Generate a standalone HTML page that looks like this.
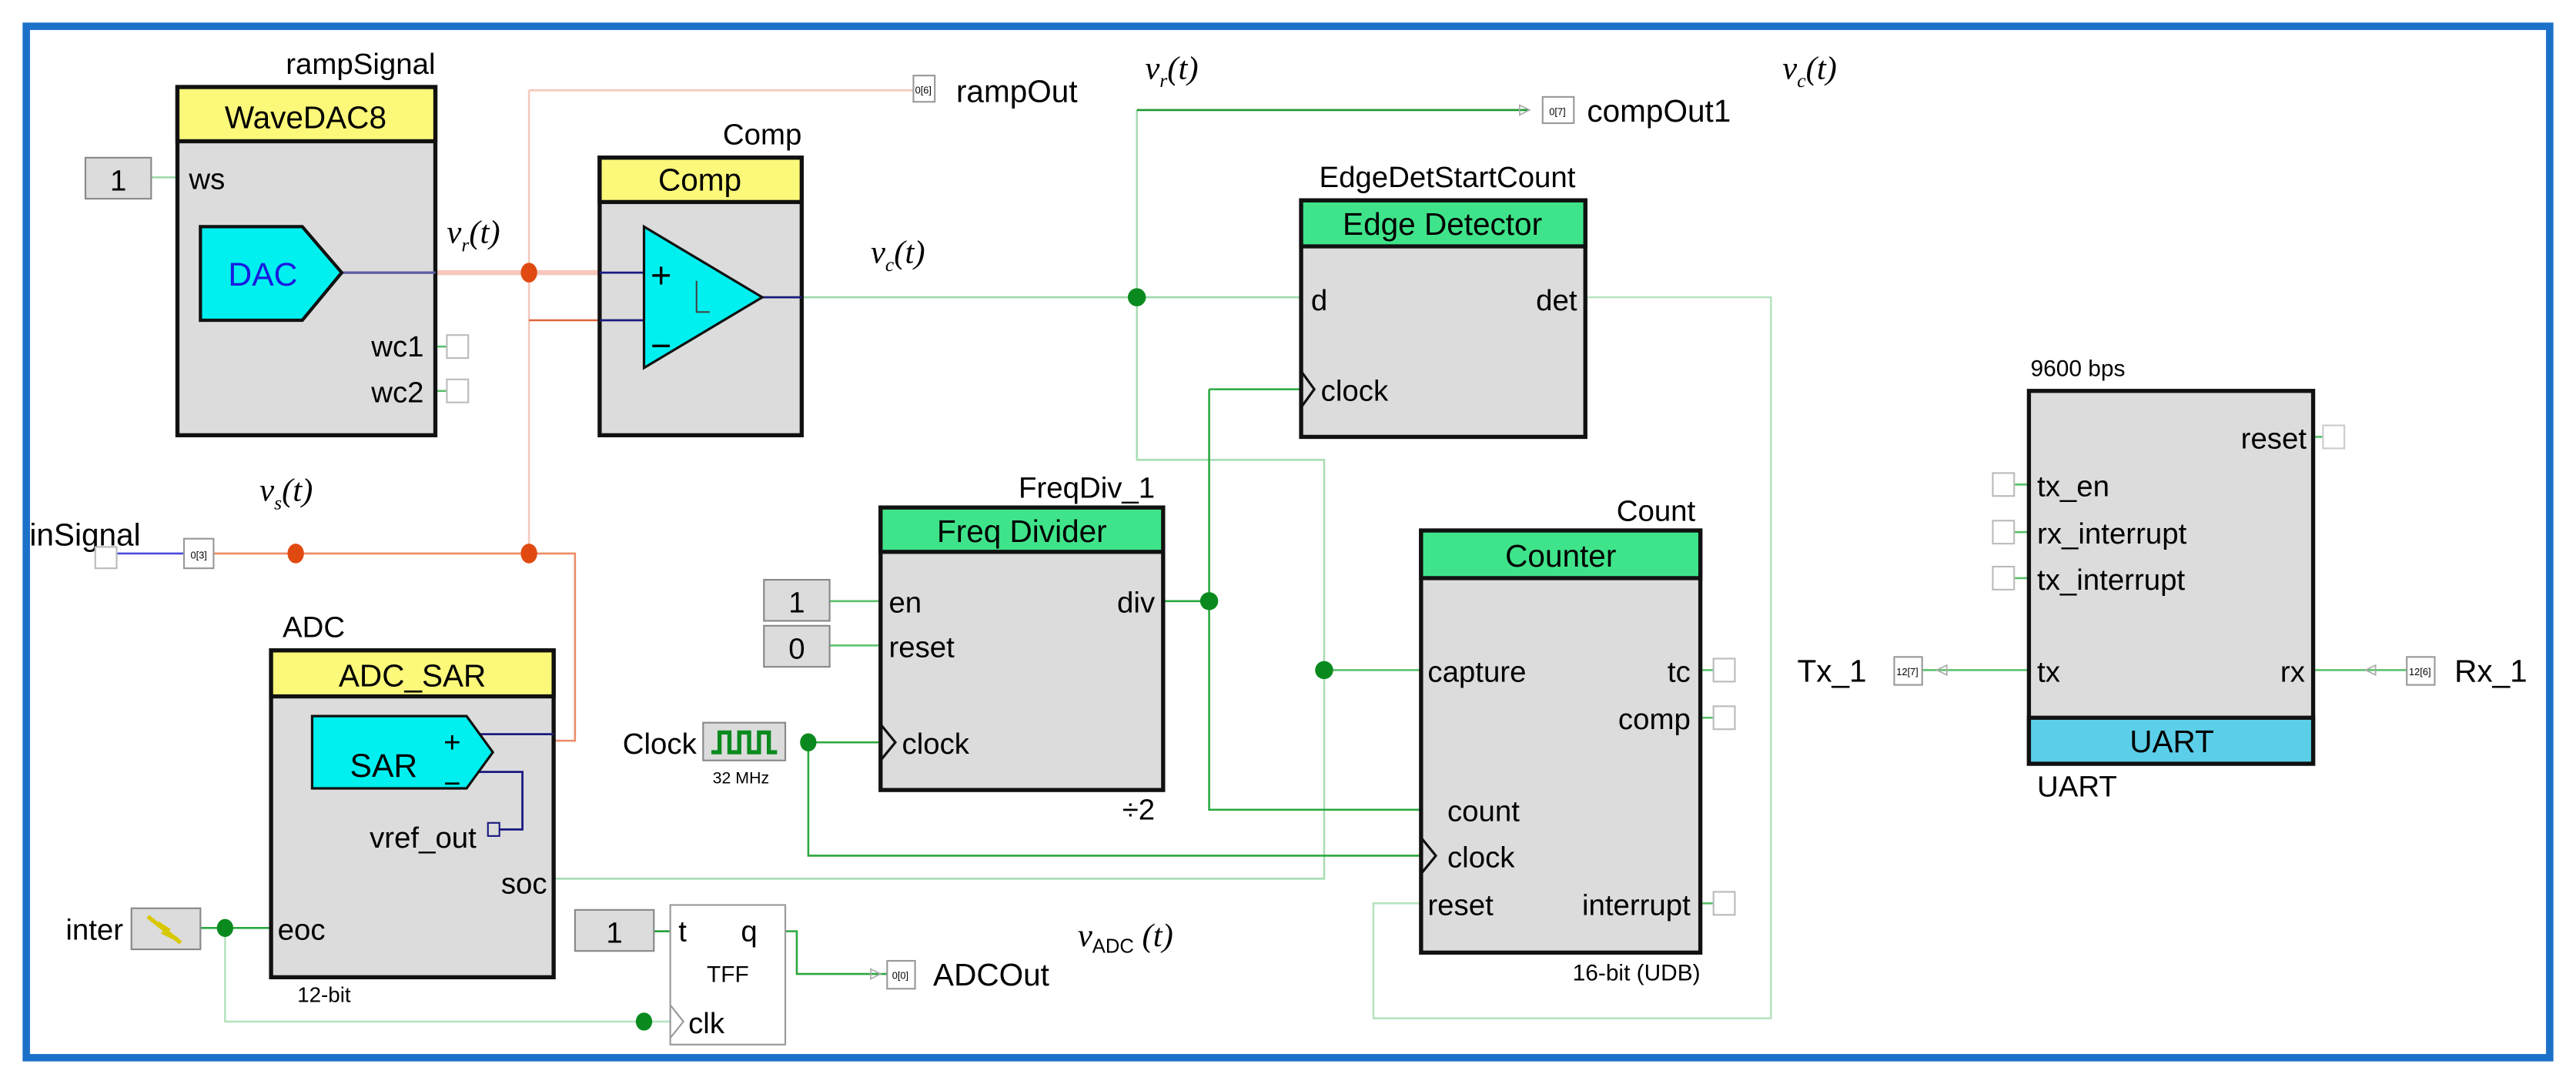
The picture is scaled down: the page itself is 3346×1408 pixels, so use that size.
<!DOCTYPE html>
<html><head><meta charset="utf-8"><style>
html,body{margin:0;padding:0;background:#fff;}
svg{display:block;}
text{font-family:"Liberation Sans","DejaVu Sans",sans-serif;fill:#000;}
.it{font-style:italic;font-family:"Liberation Serif",serif;}
</style></head><body>
<svg width="3346" height="1408" viewBox="0 0 1568 660" preserveAspectRatio="none" xmlns="http://www.w3.org/2000/svg">
<rect x="0" y="0" width="1568" height="660" fill="#fff"/>
<rect x="16" y="16" width="1536" height="628" fill="none" stroke="#1b70c8" stroke-width="4.5"/>

<!-- wires -->
<g fill="none" stroke-width="1.2">
<path d="M265 166 H365" stroke="#f6c8bc" stroke-width="3"/>
<path d="M322 55 H556 M322 55 V337" stroke="#f6c8bc"/>
<path d="M322 195 H365" stroke="#e0643a"/>
<path d="M130 337 H350 V451 H337" stroke="#ec8a66"/>
<path d="M62 337 H112" stroke="#4a4ae0"/>
<path d="M488 181 H792" stroke="#9ad9a8"/>
<path d="M692 67 V280 H806 V535 H337" stroke="#a8ddb4"/>
<path d="M692 67 H930" stroke="#1a9a30"/>
<path d="M965 181 H1078 V620 H836 V550 H865" stroke="#b6e4c0"/>
<path d="M708 366 H736 M736 237 H792 M736 237 V493 H865" stroke="#2aa83e"/>
<path d="M806 408 H865" stroke="#58c06a"/>
<path d="M492 452 H536 M492 452 V521 H865" stroke="#2aa83e"/>
<path d="M505 366 H536 M505 393 H536" stroke="#58c06a"/>
<path d="M92 108 H108" stroke="#9ad9a8"/>
<path d="M122 565 H165" stroke="#2aa83e"/>
<path d="M137 565 V622 H408" stroke="#b6e4c0"/>
<path d="M398 567 H408" stroke="#1a9a30"/>
<path d="M478 567 H485 V593 H540" stroke="#2aa83e"/>
<path d="M265 211 H280 M265 238 H280" stroke="#58c06a"/>
<path d="M1035 408 H1050 M1035 437 H1050 M1035 550 H1050" stroke="#58c06a"/>
<path d="M1170 408 H1235 M1408 408 H1465" stroke="#58c06a"/>
<path d="M1408 266 H1420 M1222 295 H1235 M1222 324 H1235 M1222 352 H1235" stroke="#58c06a"/>
</g>
<g fill="#e04a10"><ellipse cx="322" cy="166" rx="5" ry="6"/><ellipse cx="180" cy="337" rx="5" ry="6"/><ellipse cx="322" cy="337" rx="5" ry="6"/></g>
<g fill="#0a8a1e"><ellipse cx="692" cy="181" rx="5.5" ry="5.5"/><ellipse cx="736" cy="366" rx="5.5" ry="5.5"/><ellipse cx="806" cy="408" rx="5.5" ry="5.5"/><ellipse cx="492" cy="452" rx="5" ry="5.5"/><ellipse cx="137" cy="565" rx="5" ry="5.5"/><ellipse cx="392" cy="622" rx="5" ry="5.5"/></g>

<!-- WaveDAC8 -->
<text x="265" y="45" font-size="18" text-anchor="end">rampSignal</text>
<rect x="108" y="53" width="157" height="212" fill="#dcdcdc" stroke="#111" stroke-width="2.5"/>
<rect x="108" y="53" width="157" height="33" fill="#fbf87a" stroke="#111" stroke-width="2.5"/>
<text x="186" y="78" font-size="19" text-anchor="middle">WaveDAC8</text>
<rect x="52" y="96" width="40" height="25" fill="#dcdcdc" stroke="#888"/>
<text x="72" y="116" font-size="18" text-anchor="middle">1</text>
<text x="115" y="115" font-size="18">ws</text>
<path d="M208 166 H265" stroke="#5a5aa0" stroke-width="1.5"/>
<path d="M122 138 H184 L208 166 L184 195 H122 Z" fill="#00f0f0" stroke="#111" stroke-width="2"/>
<text x="160" y="174" font-size="20" text-anchor="middle" style="fill:#1a1ae0">DAC</text>
<text x="258" y="217" font-size="18" text-anchor="end">wc1</text>
<text x="258" y="245" font-size="18" text-anchor="end">wc2</text>
<rect x="272" y="204" width="13" height="14" fill="#fff" stroke="#bbb"/>
<rect x="272" y="231" width="13" height="14" fill="#fff" stroke="#bbb"/>
<text x="272" y="148" font-size="20" class="it">v<tspan font-size="12" dy="5">r</tspan><tspan dy="-5">(t)</tspan></text>

<!-- Comp -->
<text x="488" y="88" font-size="18" text-anchor="end">Comp</text>
<rect x="365" y="96" width="123" height="169" fill="#dcdcdc" stroke="#111" stroke-width="2.5"/>
<rect x="365" y="96" width="123" height="27" fill="#fbf87a" stroke="#111" stroke-width="2.5"/>
<text x="426" y="116" font-size="19" text-anchor="middle">Comp</text>
<path d="M365 166 H392 M365 195 H392 M464 181 H488" fill="none" stroke="#1a1a80" stroke-width="1.3"/>
<path d="M392 138 L464 181 L392 224 Z" fill="#00f0f0" stroke="#111" stroke-width="1.5"/>
<text x="396" y="175" font-size="22">+</text>
<text x="396" y="218" font-size="22">−</text>
<path d="M424 171 V190 H432" fill="none" stroke="#444" stroke-width="1"/>
<text x="530" y="160" font-size="20" class="it">v<tspan font-size="12" dy="5">c</tspan><tspan dy="-5">(t)</tspan></text>

<!-- rampOut / compOut1 -->
<rect x="556" y="46" width="13" height="16" fill="#fff" stroke="#999"/>
<text x="562" y="57" font-size="6" text-anchor="middle">0[6]</text>
<text x="582" y="62" font-size="19">rampOut</text>
<text x="697" y="48" font-size="20" class="it">v<tspan font-size="12" dy="5">r</tspan><tspan dy="-5">(t)</tspan></text>
<path d="M925 64 L931 67 L925 70 Z" fill="none" stroke="#aaa" stroke-width="0.8"/>
<rect x="939" y="59" width="19" height="16" fill="#fff" stroke="#999"/>
<text x="948" y="70" font-size="6" text-anchor="middle">0[7]</text>
<text x="966" y="74" font-size="19">compOut1</text>
<text x="1085" y="48" font-size="20" class="it">v<tspan font-size="12" dy="5">c</tspan><tspan dy="-5">(t)</tspan></text>

<!-- Edge Detector -->
<text x="959" y="114" font-size="18" text-anchor="end">EdgeDetStartCount</text>
<rect x="792" y="122" width="173" height="144" fill="#dcdcdc" stroke="#111" stroke-width="2.5"/>
<rect x="792" y="122" width="173" height="28" fill="#3fe48a" stroke="#111" stroke-width="2.5"/>
<text x="878" y="143" font-size="19" text-anchor="middle">Edge Detector</text>
<text x="798" y="189" font-size="18">d</text>
<text x="960" y="189" font-size="18" text-anchor="end">det</text>
<path d="M792 226 L800 237 L792 248" fill="none" stroke="#111" stroke-width="1.5"/>
<text x="804" y="244" font-size="18">clock</text>

<!-- Freq Divider -->
<text x="703" y="303" font-size="18" text-anchor="end">FreqDiv_1</text>
<rect x="536" y="309" width="172" height="172" fill="#dcdcdc" stroke="#111" stroke-width="2.5"/>
<rect x="536" y="309" width="172" height="27" fill="#3fe48a" stroke="#111" stroke-width="2.5"/>
<text x="622" y="330" font-size="19" text-anchor="middle">Freq Divider</text>
<text x="541" y="373" font-size="18">en</text>
<text x="703" y="373" font-size="18" text-anchor="end">div</text>
<text x="541" y="400" font-size="18">reset</text>
<path d="M536 441 L545 452 L536 463" fill="none" stroke="#111" stroke-width="1.5"/>
<text x="549" y="459" font-size="18">clock</text>
<text x="703" y="499" font-size="18" text-anchor="end">÷2</text>
<rect x="465" y="353" width="40" height="25" fill="#dcdcdc" stroke="#888"/>
<text x="485" y="373" font-size="18" text-anchor="middle">1</text>
<rect x="465" y="381" width="40" height="25" fill="#dcdcdc" stroke="#888"/>
<text x="485" y="401" font-size="18" text-anchor="middle">0</text>
<text x="424" y="459" font-size="18" text-anchor="end">Clock</text>
<rect x="428" y="440" width="50" height="23" fill="#dcdcdc" stroke="#888"/>
<path d="M433 458 H438 V446 H444 V458 H450 V446 H456 V458 H462 V446 H468 V458 H473" fill="none" stroke="#0a8a1e" stroke-width="2.5"/>
<text x="451" y="477" font-size="10" text-anchor="middle">32 MHz</text>

<!-- Counter -->
<text x="1032" y="317" font-size="18" text-anchor="end">Count</text>
<rect x="865" y="323" width="170" height="257" fill="#dcdcdc" stroke="#111" stroke-width="2.5"/>
<rect x="865" y="323" width="170" height="29" fill="#3fe48a" stroke="#111" stroke-width="2.5"/>
<text x="950" y="345" font-size="19" text-anchor="middle">Counter</text>
<text x="869" y="415" font-size="18">capture</text>
<text x="1029" y="415" font-size="18" text-anchor="end">tc</text>
<text x="1029" y="444" font-size="18" text-anchor="end">comp</text>
<text x="881" y="500" font-size="18">count</text>
<path d="M865 510 L874 521 L865 532" fill="none" stroke="#111" stroke-width="1.5"/>
<text x="881" y="528" font-size="18">clock</text>
<text x="869" y="557" font-size="18">reset</text>
<text x="1029" y="557" font-size="18" text-anchor="end">interrupt</text>
<text x="1035" y="597" font-size="14" text-anchor="end">16-bit (UDB)</text>
<rect x="1043" y="401" width="13" height="14" fill="#fff" stroke="#bbb"/>
<rect x="1043" y="430" width="13" height="14" fill="#fff" stroke="#bbb"/>
<rect x="1043" y="543" width="13" height="14" fill="#fff" stroke="#bbb"/>

<!-- inSignal -->
<text x="18" y="332" font-size="19">inSignal</text>
<rect x="58" y="333" width="13" height="13" fill="#fff" stroke="#bbb"/>
<rect x="112" y="328" width="18" height="18" fill="#fff" stroke="#999"/>
<text x="121" y="340" font-size="6" text-anchor="middle">0[3]</text>
<text x="158" y="305" font-size="20" class="it">v<tspan font-size="12" dy="5">s</tspan><tspan dy="-5">(t)</tspan></text>

<!-- ADC -->
<text x="172" y="388" font-size="18">ADC</text>
<rect x="165" y="396" width="172" height="199" fill="#dcdcdc" stroke="#111" stroke-width="2.5"/>
<rect x="165" y="396" width="172" height="28" fill="#fbf87a" stroke="#111" stroke-width="2.5"/>
<text x="251" y="418" font-size="19" text-anchor="middle">ADC_SAR</text>
<path d="M290 447 H337 M290 470 H318 V505 H304" fill="none" stroke="#1a1a80" stroke-width="1.3"/>
<path d="M190 436 H284 L300 458 L284 480 H190 Z" fill="#00f0f0" stroke="#111" stroke-width="1.5"/>
<text x="213" y="473" font-size="20">SAR</text>
<text x="270" y="458" font-size="18">+</text>
<text x="270" y="483" font-size="18">−</text>
<text x="290" y="516" font-size="18" text-anchor="end">vref_out</text>
<rect x="297" y="501" width="7" height="8" fill="none" stroke="#1a1a80"/>
<text x="333" y="544" font-size="18" text-anchor="end">soc</text>
<text x="169" y="572" font-size="18">eoc</text>
<text x="181" y="610" font-size="13">12-bit</text>
<text x="75" y="572" font-size="18" text-anchor="end">inter</text>
<rect x="80" y="553" width="42" height="25" fill="#dcdcdc" stroke="#888"/>
<path d="M90 558 L110 574 M96 562 L102 566 L100 568 L108 572" fill="none" stroke="#d8c800" stroke-width="2.5"/>

<!-- TFF -->
<rect x="350" y="554" width="48" height="25" fill="#dcdcdc" stroke="#888"/>
<text x="374" y="574" font-size="18" text-anchor="middle">1</text>
<rect x="408" y="551" width="70" height="85" fill="#fff" stroke="#999"/>
<text x="413" y="573" font-size="18">t</text>
<text x="451" y="573" font-size="18">q</text>
<text x="443" y="598" font-size="14" text-anchor="middle">TFF</text>
<path d="M408 612 L416 622 L408 632" fill="none" stroke="#999" stroke-width="1"/>
<text x="419" y="629" font-size="18">clk</text>
<path d="M530 590 L536 593 L530 596 Z" fill="none" stroke="#aaa" stroke-width="0.8"/>
<rect x="540" y="585" width="17" height="17" fill="#fff" stroke="#999"/>
<text x="548" y="596" font-size="6" text-anchor="middle">0[0]</text>
<text x="568" y="600" font-size="19">ADCOut</text>
<text x="656" y="576" font-size="20" class="it">v<tspan font-size="12" dy="4" font-style="normal" font-family="Liberation Sans">ADC</tspan><tspan dy="-4"> (t)</tspan></text>

<!-- UART -->
<text x="1236" y="229" font-size="14">9600 bps</text>
<rect x="1235" y="238" width="173" height="227" fill="#dcdcdc" stroke="#111" stroke-width="2.5"/>
<rect x="1235" y="437" width="173" height="28" fill="#5bcfe9" stroke="#111" stroke-width="2.5"/>
<text x="1322" y="458" font-size="19" text-anchor="middle">UART</text>
<text x="1240" y="485" font-size="18">UART</text>
<text x="1404" y="273" font-size="18" text-anchor="end">reset</text>
<rect x="1414" y="259" width="13" height="14" fill="#fff" stroke="#ccc"/>
<text x="1240" y="302" font-size="18">tx_en</text>
<text x="1240" y="331" font-size="18">rx_interrupt</text>
<text x="1240" y="359" font-size="18">tx_interrupt</text>
<rect x="1213" y="288" width="13" height="14" fill="#fff" stroke="#bbb"/>
<rect x="1213" y="317" width="13" height="14" fill="#fff" stroke="#bbb"/>
<rect x="1213" y="345" width="13" height="14" fill="#fff" stroke="#bbb"/>
<text x="1240" y="415" font-size="18">tx</text>
<text x="1403" y="415" font-size="18" text-anchor="end">rx</text>
<text x="1094" y="415" font-size="19">Tx_1</text>
<rect x="1153" y="400" width="17" height="17" fill="#fff" stroke="#999"/>
<text x="1161" y="411" font-size="6" text-anchor="middle">12[7]</text>
<path d="M1185 405 L1179 408 L1185 411 Z" fill="none" stroke="#aaa" stroke-width="0.8"/>
<path d="M1446 405 L1440 408 L1446 411 Z" fill="none" stroke="#aaa" stroke-width="0.8"/>
<rect x="1465" y="400" width="17" height="17" fill="#fff" stroke="#999"/>
<text x="1473" y="411" font-size="6" text-anchor="middle">12[6]</text>
<text x="1494" y="415" font-size="19">Rx_1</text>
</svg>
</body></html>
